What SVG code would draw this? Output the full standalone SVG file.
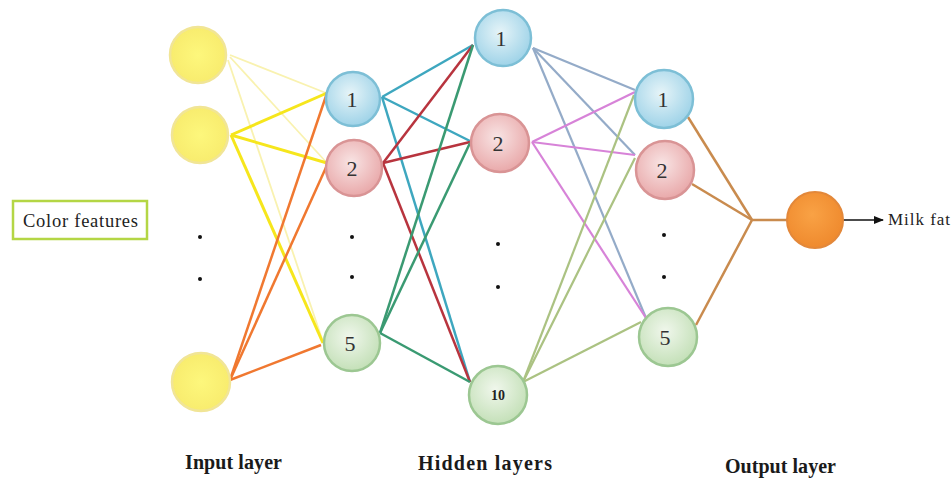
<svg xmlns="http://www.w3.org/2000/svg" width="951" height="479" viewBox="0 0 951 479">
<defs>
<radialGradient id="gY" cx="50%" cy="50%" r="50%"><stop offset="0" stop-color="#fdf77c"/><stop offset="1" stop-color="#f8ec6e"/></radialGradient>
<radialGradient id="gB" cx="45%" cy="40%" r="60%"><stop offset="0" stop-color="#e6f4f8"/><stop offset="1" stop-color="#9fd3e8"/></radialGradient>
<radialGradient id="gR" cx="45%" cy="40%" r="60%"><stop offset="0" stop-color="#f8e4e4"/><stop offset="1" stop-color="#e9a9aa"/></radialGradient>
<radialGradient id="gG" cx="45%" cy="40%" r="60%"><stop offset="0" stop-color="#f0f7ec"/><stop offset="1" stop-color="#c4e0b8"/></radialGradient>
<radialGradient id="gO" cx="45%" cy="40%" r="60%"><stop offset="0" stop-color="#f9a245"/><stop offset="1" stop-color="#ef8a2e"/></radialGradient>
<marker id="arr" markerWidth="10" markerHeight="8" refX="9" refY="4" orient="auto" markerUnits="userSpaceOnUse"><path d="M0,0 L10,4 L0,8 Z" fill="#111"/></marker>
</defs>
<style>
.yel{fill:url(#gY);stroke:#f1e596;stroke-width:2.5}
.blu{fill:url(#gB);stroke:#7dbfd6;stroke-width:2.5}
.red{fill:url(#gR);stroke:#d99495;stroke-width:2.5}
.grn{fill:url(#gG);stroke:#9cc792;stroke-width:2.5}
.org{fill:url(#gO);stroke:#e3883a;stroke-width:2}
.num{font-family:"Liberation Serif",serif;font-size:22px;fill:#333;text-anchor:middle}
.num10{font-family:"Liberation Serif",serif;font-size:14px;font-weight:bold;fill:#222;text-anchor:middle}
.lbl{font-family:"Liberation Serif",serif;font-size:20px;font-weight:bold;fill:#1a1a1a}
.txt{font-family:"Liberation Serif",serif;font-size:18.5px;fill:#222}
.dot{fill:#111}
line{fill:none}
.faint{stroke:#f9f2b0;stroke-width:1.8}
.y2{stroke:#f6e61c;stroke-width:3}
.o3{stroke:#f07830;stroke-width:2.5}
.b1{stroke:#3ea7bf;stroke-width:2.5}
.r2{stroke:#b8343e;stroke-width:2.5}
.g5{stroke:#3a9a72;stroke-width:2.5}
.h1{stroke:#94abc8;stroke-width:2.2}
.h2{stroke:#d783d8;stroke-width:2.2}
.h10{stroke:#abc282;stroke-width:2.2}
.out{stroke:#c98b4e;stroke-width:2.5}
</style>
<g id="connectors">
<line class="faint" x1="230" y1="55" x2="326" y2="93"/>
<line class="faint" x1="230" y1="57" x2="327" y2="163"/>
<line class="faint" x1="228" y1="60" x2="323" y2="342"/>
<line class="y2" x1="231" y1="135" x2="327" y2="93"/>
<line class="y2" x1="231" y1="135" x2="327" y2="163"/>
<line class="y2" x1="231" y1="135" x2="323" y2="343"/>
<line class="o3" x1="230" y1="380" x2="327" y2="93"/>
<line class="o3" x1="230" y1="380" x2="328" y2="163"/>
<line class="o3" x1="230" y1="380" x2="321" y2="345"/>
<line class="b1" x1="382" y1="97" x2="473" y2="45"/>
<line class="b1" x1="382" y1="97" x2="470" y2="141"/>
<line class="b1" x1="382" y1="97" x2="470" y2="382"/>
<line class="r2" x1="383" y1="163" x2="473" y2="45"/>
<line class="r2" x1="383" y1="163" x2="470" y2="142"/>
<line class="r2" x1="383" y1="163" x2="470" y2="382"/>
<line class="g5" x1="380" y1="333" x2="473" y2="45"/>
<line class="g5" x1="380" y1="333" x2="470" y2="143"/>
<line class="g5" x1="380" y1="333" x2="470" y2="382"/>
<line class="h1" x1="533" y1="48" x2="635" y2="90"/>
<line class="h1" x1="533" y1="48" x2="635" y2="155"/>
<line class="h1" x1="533" y1="48" x2="646" y2="318"/>
<line class="h2" x1="532" y1="142" x2="635" y2="92"/>
<line class="h2" x1="532" y1="142" x2="635" y2="155"/>
<line class="h2" x1="532" y1="142" x2="646" y2="318"/>
<line class="h10" x1="523" y1="382" x2="634" y2="95"/>
<line class="h10" x1="523" y1="382" x2="635" y2="158"/>
<line class="h10" x1="523" y1="382" x2="641" y2="322"/>
<line class="out" x1="688" y1="117" x2="752" y2="220"/>
<line class="out" x1="692" y1="184" x2="752" y2="220"/>
<line class="out" x1="696" y1="325" x2="752" y2="220"/>
<line class="out" x1="752" y1="220" x2="788" y2="220"/>
<line x1="843" y1="220" x2="883" y2="220" stroke="#111" stroke-width="1.5" marker-end="url(#arr)"/>
</g>
<g id="color-features"><rect x="13" y="201" width="134" height="38" fill="#fff" stroke="#b4d645" stroke-width="2.5"/><text class="txt" x="23" y="227" textLength="115">Color features</text></g>
<g id="in1"><circle class="yel" cx="198" cy="55" r="28"/></g>
<g id="in2"><circle class="yel" cx="200" cy="135" r="28"/></g>
<g id="in3"><circle class="yel" cx="201" cy="382" r="29"/></g>
<g id="in-dots"><circle class="dot" cx="200" cy="237" r="2"/><circle class="dot" cx="200" cy="279" r="2"/></g>
<g id="l1n1"><circle class="blu" cx="353" cy="99" r="27"/><text class="num" x="352" y="107">1</text></g>
<g id="l1n2"><circle class="red" cx="354" cy="168" r="28"/><text class="num" x="352" y="176">2</text></g>
<g id="l1n5"><circle class="grn" cx="352" cy="343" r="28"/><text class="num" x="350" y="351">5</text></g>
<g id="l1-dots"><circle class="dot" cx="352" cy="237" r="2"/><circle class="dot" cx="352" cy="277" r="2"/></g>
<g id="h1"><circle class="blu" cx="503" cy="38" r="28"/><text class="num" x="501" y="46">1</text></g>
<g id="h2"><circle class="red" cx="500" cy="143" r="29"/><text class="num" x="498" y="151">2</text></g>
<g id="h10"><circle class="grn" cx="498" cy="395" r="29"/><text class="num10" x="498" y="400">10</text></g>
<g id="h-dots"><circle class="dot" cx="498" cy="244" r="2"/><circle class="dot" cx="498" cy="287" r="2"/></g>
<g id="o1"><circle class="blu" cx="664" cy="99" r="29"/><text class="num" x="663" y="107">1</text></g>
<g id="o2"><circle class="red" cx="665" cy="170" r="29"/><text class="num" x="662" y="178">2</text></g>
<g id="o5"><circle class="grn" cx="668" cy="337" r="29"/><text class="num" x="665" y="345">5</text></g>
<g id="o-dots"><circle class="dot" cx="664" cy="235" r="2"/><circle class="dot" cx="664" cy="277" r="2"/></g>
<g id="final"><circle class="org" cx="815" cy="220" r="28"/></g>
<g id="milk-fat"><text class="txt" x="888" y="225" textLength="62" style="font-size:17px">Milk fat</text></g>
<g id="labels">
<text class="lbl" x="185" y="469" textLength="97">Input layer</text>
<text class="lbl" x="418" y="470" textLength="134">Hidden layers</text>
<text class="lbl" x="725" y="473" textLength="111">Output layer</text>
</g>
</svg>
